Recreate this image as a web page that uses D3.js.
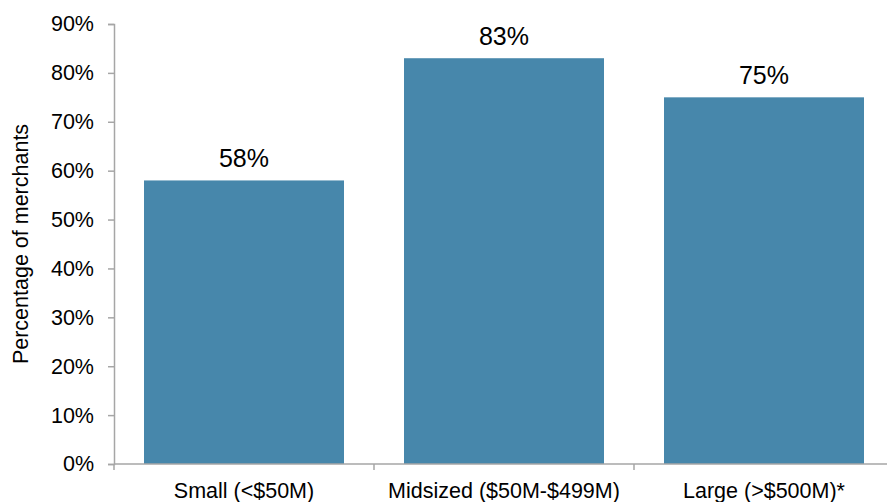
<!DOCTYPE html>
<html>
<head>
<meta charset="utf-8">
<script src="https://cdn.jsdelivr.net/npm/d3@7"></script>
<style>
  html, body { margin: 0; padding: 0; background: #fff; }
  svg { display: block; font-family: "Liberation Sans", Arial, sans-serif; }
</style>
</head>
<body>
<svg id="chart" width="887" height="502"></svg>
<script>
const categories = ["Small (<$50M)", "Midsized ($50M-$499M)", "Large (>$500M)*"];
const values = [58, 83, 75];
const yTicks = [0, 10, 20, 30, 40, 50, 60, 70, 80, 90];
const yTitle = "Percentage of merchants";

const svg = d3.select("#chart");
const plotLeft = 114, plotRight = 894, plotTop = 24, plotBottom = 464;
const axisColor = "#a6a6a6";

const x = d3.scaleBand()
  .domain(categories)
  .range([plotLeft, plotRight])
  .paddingInner(0.2308)
  .paddingOuter(0.1154);

const y = d3.scaleLinear().domain([0, 90]).range([plotBottom, plotTop]);

// bars
svg.append("g").selectAll("rect")
  .data(values)
  .join("rect")
  .attr("x", (d, i) => x(categories[i]))
  .attr("y", d => y(d))
  .attr("width", x.bandwidth())
  .attr("height", d => y(0) - y(d))
  .attr("fill", "#4787ab");

// value labels
svg.append("g").selectAll("text")
  .data(values)
  .join("text")
  .attr("x", (d, i) => x(categories[i]) + x.bandwidth() / 2)
  .attr("y", d => y(d) - 13)
  .attr("text-anchor", "middle")
  .attr("font-size", 25)
  .attr("fill", "#000")
  .text(d => d + "%");

// y axis
const yAxis = svg.append("g")
  .attr("transform", `translate(${plotLeft},0)`)
  .call(d3.axisLeft(y).tickValues(yTicks).tickFormat(d => d + "%").tickSize(6).tickPadding(14));
yAxis.select(".domain").attr("stroke", axisColor).attr("stroke-width", 1.5);
yAxis.selectAll(".tick line").attr("stroke", axisColor).attr("stroke-width", 1.5);
yAxis.selectAll(".tick text").attr("font-size", 21.5).attr("fill", "#000")
  .attr("font-family", "Liberation Sans, Arial, sans-serif");

// x axis with ticks at category boundaries
const boundaries = [plotLeft, ...categories.slice(1).map(c => x(c) - x.step() * x.paddingInner() / 2)];
const xg = svg.append("g");
xg.append("line")
  .attr("x1", plotLeft).attr("x2", plotRight)
  .attr("y1", plotBottom).attr("y2", plotBottom)
  .attr("stroke", axisColor).attr("stroke-width", 1.5);
xg.selectAll("line.tk")
  .data(boundaries)
  .join("line")
  .attr("class", "tk")
  .attr("x1", d => d).attr("x2", d => d)
  .attr("y1", plotBottom).attr("y2", plotBottom + 6)
  .attr("stroke", axisColor).attr("stroke-width", 1.5);
xg.selectAll("text")
  .data(categories)
  .join("text")
  .attr("x", d => x(d) + x.bandwidth() / 2)
  .attr("y", 498)
  .attr("text-anchor", "middle")
  .attr("font-size", 21.5)
  .attr("fill", "#000")
  .text(d => d);

// y axis title
svg.append("text")
  .attr("transform", `translate(28,${(plotTop + plotBottom) / 2}) rotate(-90)`)
  .attr("text-anchor", "middle")
  .attr("font-size", 21.5)
  .attr("fill", "#000")
  .text(yTitle);
</script>
</body>
</html>
